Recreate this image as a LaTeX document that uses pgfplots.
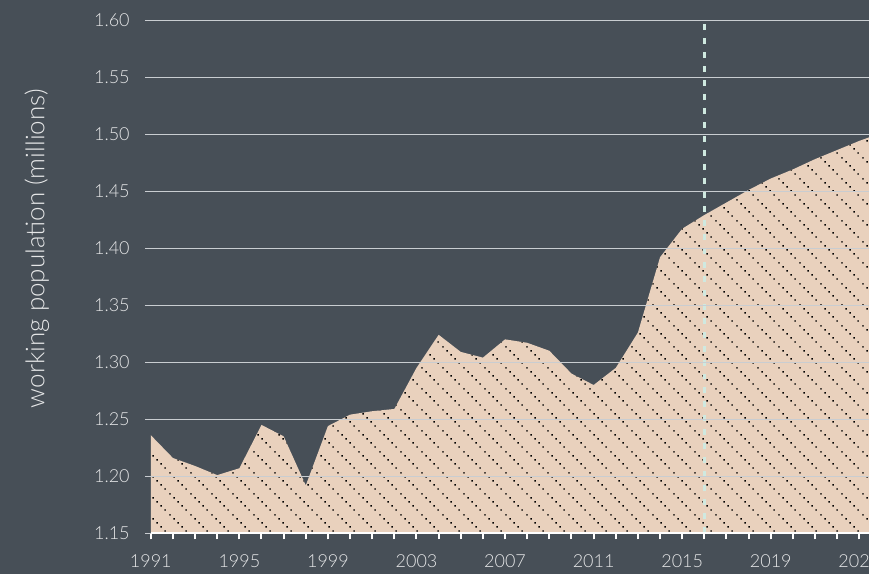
\documentclass[border=0pt]{standalone}
\usepackage{fontspec}
\setmainfont{Lato}[UprightFont={* Light}]
\usepackage{pgfplots}
\pgfplotsset{compat=1.18}
\usetikzlibrary{patterns}
\definecolor{bg}{HTML}{474F57}
\definecolor{peach}{HTML}{E9D1BD}
\definecolor{gridgray}{HTML}{C9CDD1}
\definecolor{labgray}{HTML}{E6E7E8}
\definecolor{mint}{HTML}{CFE9E0}
\pgfdeclarepatternformonly{dotdiag}{\pgfpointorigin}{\pgfpoint{21.1pt}{21.1pt}}{\pgfpoint{21.1pt}{21.1pt}}{
    \pgfpathrectangle{\pgfpoint{1.36pt}{18.24pt}}{\pgfpoint{1.5pt}{1.5pt}}
    \pgfpathrectangle{\pgfpoint{5.58pt}{14.02pt}}{\pgfpoint{1.5pt}{1.5pt}}
    \pgfpathrectangle{\pgfpoint{9.80pt}{9.80pt}}{\pgfpoint{1.5pt}{1.5pt}}
    \pgfpathrectangle{\pgfpoint{14.02pt}{5.58pt}}{\pgfpoint{1.5pt}{1.5pt}}
    \pgfpathrectangle{\pgfpoint{18.24pt}{1.36pt}}{\pgfpoint{1.5pt}{1.5pt}}
    \pgfusepath{fill}
}
\pgfplotstableread{
year value
1991 1.236
1992 1.216
1993 1.209
1994 1.201
1995 1.207
1996 1.245
1997 1.235
1998 1.192
1999 1.244
2000 1.254
2001 1.257
2002 1.259
2003 1.295
2004 1.324
2005 1.309
2006 1.304
2007 1.320
2008 1.317
2009 1.310
2010 1.290
2011 1.280
2012 1.295
2013 1.326
2014 1.392
2015 1.417
2016 1.429
2017 1.440
2018 1.451
2019 1.461
2020 1.469
2021 1.478
2022 1.486
2023 1.494
2024 1.501
}\popdata
\begin{document}
\begin{tikzpicture}
\fill[bg] (-151pt,-41pt) rectangle (719pt,534pt);
\begin{axis}[
  at={(0pt,0pt)}, anchor=south west,
  scale only axis,
  width=719pt, height=514pt,
  xmin=1991, xmax=2023.43,
  ymin=1.15, ymax=1.60,
  axis x line=bottom, axis y line=left,
  x axis line style={draw=white, line width=2.3pt, -},
  y axis line style={draw=none},
  xtick={1991,1995,...,2019},
  minor xtick={1991,...,2023},
  extra x ticks={2023},
  extra x tick style={xticklabel style={overlay}},
  ytick={1.15,1.20,1.25,1.30,1.35,1.40,1.45,1.50,1.55,1.60},
  tick align=outside,
  major tick length=6pt, minor tick length=6pt,
  xtick style={draw=white, line width=2pt},
  minor tick style={draw=white, line width=2pt},
  ytick style={draw=gridgray, line width=0.9pt},
  ymajorgrids,
  grid style={draw=gridgray, line width=0.9pt},
  axis on top,
  tick label style={font=\fontsize{18}{20}\selectfont, text=labgray},
  /pgf/number format/assume math mode=true,
  xticklabel style={/pgf/number format/set thousands separator={}, anchor=north, inner sep=0pt, yshift=-15pt},
  yticklabel style={/pgf/number format/.cd, fixed, fixed zerofill, precision=2, /tikz/.cd, anchor=east, inner sep=0pt, xshift=-15pt},
]
\addplot[draw=none, fill=peach, postaction={pattern=dotdiag, pattern color=black}] table[x=year, y=value] {\popdata} \closedcycle;
\addplot[mint, line width=2.8pt, dash pattern=on 6pt off 8pt] coordinates {(2016,1.15) (2016,1.60)};
\end{axis}
\node[rotate=90, text=labgray, font=\fontsize{26}{28}\selectfont] at (-114pt,285pt) {working population (millions)};
\end{tikzpicture}
\end{document}
